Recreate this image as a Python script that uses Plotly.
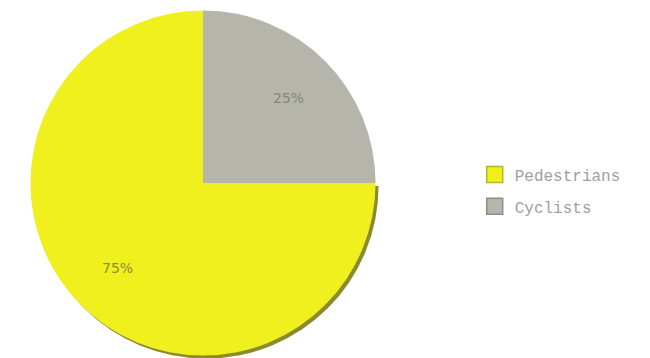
import math
import plotly.graph_objects as go

labels = ["Pedestrians", "Cyclists"]
values = [75, 25]
colors = ["#F0F01E", "#B5B5AB"]
edge_colors = ["#B8B818", "#8E8E88"]
shadow_colors = ["#8A8A30", "rgba(0,0,0,0)"]
label_colors = ["#8C8C2A", "#85857C"]

W, H = 650, 358
# pie domain in paper fraction
dom_x = [0.023, 0.577]
dom_y = [0.029, 0.993]
dx, dy = 3 / W, 3 / H

fig = go.Figure()
# soft shadow beneath the pie
fig.add_trace(go.Pie(
    labels=labels, values=values, sort=False, direction="clockwise",
    rotation=90, marker=dict(colors=shadow_colors, line=dict(width=0)),
    textinfo="none", hoverinfo="skip", showlegend=False,
    domain=dict(x=[dom_x[0] + dx, dom_x[1] + dx], y=[dom_y[0] - dy, dom_y[1] - dy]),
))
fig.add_trace(go.Pie(
    labels=labels, values=values, sort=False, direction="clockwise",
    rotation=90, marker=dict(colors=colors, line=dict(width=0)),
    textinfo="none", showlegend=False,
    domain=dict(x=dom_x, y=dom_y),
))

# percentage labels placed along each slice's mid-angle
total = sum(values)
cx_px = (dom_x[0] + dom_x[1]) / 2 * W
cy_px = (dom_y[0] + dom_y[1]) / 2 * H
radius = (dom_y[1] - dom_y[0]) * H / 2
start = 0.0  # degrees, math convention (3 o'clock), slices go clockwise
for v, c in zip(values, label_colors):
    mid = start - 360 * v / total / 2
    start -= 360 * v / total
    r = 0.70 * radius
    x = (cx_px + r * math.cos(math.radians(mid))) / W
    y = (cy_px + r * math.sin(math.radians(mid))) / H
    fig.add_annotation(x=x, y=y, xref="paper", yref="paper", showarrow=False,
                       xanchor="center", yanchor="middle",
                       text=f"{round(100 * v / total)}%",
                       font=dict(family="DejaVu Sans", size=14, color=c))

# legend entries
for i, (lab, col, ec) in enumerate(zip(labels, colors, edge_colors)):
    fig.add_trace(go.Scatter(
        x=[None], y=[None], mode="markers", name=lab, legendgroup=lab,
        marker=dict(symbol="square", size=16, color=col, line=dict(color=ec, width=1.5)),
    ))

fig.update_layout(
    width=W, height=H,
    margin=dict(l=0, r=0, t=0, b=0),
    paper_bgcolor="white", plot_bgcolor="white",
    xaxis=dict(visible=False), yaxis=dict(visible=False),
    legend=dict(x=0.718, y=0.49, xanchor="left", yanchor="middle",
                font=dict(family="Liberation Mono", size=16, color="#A0A0A0"),
                tracegroupgap=8),
)
fig.write_html("out.html")
